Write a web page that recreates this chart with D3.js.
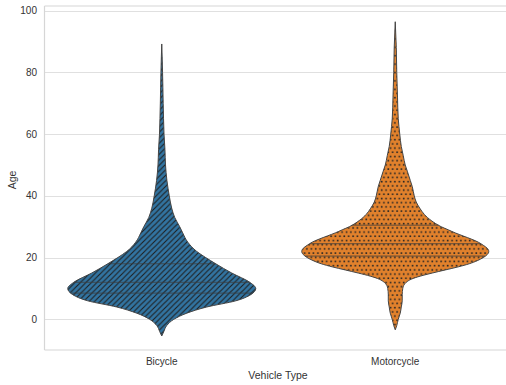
<!DOCTYPE html>
<html>
<head>
<meta charset="utf-8">
<script src="https://cdn.jsdelivr.net/npm/d3@7"></script>
<style>
  html, body { margin: 0; padding: 0; background: #fff; }
  svg { display: block; }
  text { font-family: "Liberation Sans", Arial, sans-serif; fill: #333; }
</style>
</head>
<body>
<svg id="chart" width="506" height="385"></svg>
<script>
// Vehicle types on the x axis
const categories = ["Bicycle", "Motorcycle"];

// Kernel density profile of rider age, per vehicle type (relative density, peak = 1)
const bicycleAges = [-5.4, -4, -2, 0, 2, 4, 6, 8, 10, 12, 15, 18, 20, 22, 25, 28, 30, 33, 36, 40, 45, 50, 55, 60, 65, 70, 75, 80, 85, 89.2];
const bicycleDensity = [0, 0.021, 0.053, 0.128, 0.266, 0.479, 0.787, 0.947, 1, 0.936, 0.745, 0.574, 0.468, 0.372, 0.277, 0.223, 0.191, 0.138, 0.106, 0.08, 0.055, 0.04, 0.034, 0.024, 0.019, 0.015, 0.012, 0.0085, 0.0043, 0];

const motorcycleAges = [-3.4, -2, 0, 2, 4, 6, 8, 10, 11, 12, 13, 14, 15, 16, 17, 18, 19, 20, 21, 22, 23, 24, 25, 26, 27, 28, 29, 30, 32, 34, 36, 38, 40, 43, 45, 48, 50, 53, 56, 60, 65, 72, 80, 88, 96.4];
const motorcycleDensity = [0, 0.016, 0.032, 0.053, 0.064, 0.074, 0.074, 0.08, 0.09, 0.117, 0.17, 0.266, 0.394, 0.532, 0.67, 0.787, 0.872, 0.936, 0.979, 0.995, 0.979, 0.936, 0.883, 0.809, 0.723, 0.638, 0.564, 0.489, 0.383, 0.309, 0.261, 0.223, 0.202, 0.181, 0.16, 0.128, 0.106, 0.085, 0.064, 0.048, 0.032, 0.024, 0.016, 0.011, 0];

// Quartiles of age (Q1, median, Q3)
const bicycleQuartiles = [8.5, 12, 18];
const motorcycleQuartiles = [20.5, 24.5, 30.5];

// Y axis ticks
const yTicks = [0, 20, 40, 60, 80, 100];

const series = [
  { name: categories[0], ages: bicycleAges, density: bicycleDensity, quartiles: bicycleQuartiles, color: "#3274a1", hatch: "hatchDiag" },
  { name: categories[1], ages: motorcycleAges, density: motorcycleDensity, quartiles: motorcycleQuartiles, color: "#e1812c", hatch: "hatchDots" }
];

const svg = d3.select("#chart");

const x = d3.scaleBand().domain(categories).range([45, 512]).padding(0);
const y = d3.scaleLinear().domain([-9.93, 101.5]).range([350, 6]);
const w = d3.scaleLinear().domain([0, 1]).range([0, 94]);

// Hatch patterns
const defs = svg.append("defs");
const diag = defs.append("pattern").attr("id", "hatchDiag")
  .attr("patternUnits", "userSpaceOnUse").attr("width", 5.5).attr("height", 5.5);
diag.append("path")
  .attr("d", "M-1,1 L1,-1 M0,5.5 L5.5,0 M4.5,6.5 L6.5,4.5")
  .attr("stroke", "#1e1e1e").attr("stroke-width", 1.1);

const dots = defs.append("pattern").attr("id", "hatchDots")
  .attr("patternUnits", "userSpaceOnUse").attr("width", 4.4).attr("height", 8.4);
[[1.1, 1.1], [3.3, 5.3]].forEach(([cx, cy]) => {
  dots.append("rect").attr("x", cx - 0.8).attr("y", cy - 0.8)
    .attr("width", 1.6).attr("height", 1.6).attr("fill", "#242424");
});

// Horizontal gridlines
svg.append("g").selectAll("line").data(yTicks).join("line")
  .attr("x1", 45).attr("x2", 512)
  .attr("y1", d => Math.round(y(d)) + 0.5).attr("y2", d => Math.round(y(d)) + 0.5)
  .attr("stroke", "#e0e0e0").attr("stroke-width", 1);

// Spines
const spine = svg.append("g").attr("stroke", "#d6d6d6").attr("stroke-width", 1.2).attr("fill", "none");
spine.append("line").attr("x1", 44.5).attr("x2", 44.5).attr("y1", 6).attr("y2", 350);
spine.append("line").attr("x1", 44.5).attr("x2", 512).attr("y1", 6).attr("y2", 6);
spine.append("line").attr("x1", 44.5).attr("x2", 512).attr("y1", 350).attr("y2", 350);

// Violins
series.forEach(s => {
  const cx = x(s.name) + x.bandwidth() / 2;
  const pts = s.ages.map((a, i) => ({ age: a, d: s.density[i] }));
  const area = d3.area()
    .y(p => y(p.age))
    .x0(p => cx - w(p.d))
    .x1(p => cx + w(p.d))
    .curve(d3.curveMonotoneY);
  const g = svg.append("g");
  g.append("path").attr("d", area(pts)).attr("fill", s.color);
  g.append("path").attr("d", area(pts)).attr("fill", `url(#${s.hatch})`);
  // Quartile lines spanning the violin at each level
  const interp = a => {
    const i = d3.bisectRight(s.ages, a);
    const a0 = s.ages[i - 1], a1 = s.ages[i];
    const t = (a - a0) / (a1 - a0);
    return s.density[i - 1] + t * (s.density[i] - s.density[i - 1]);
  };
  g.selectAll("line.q").data(s.quartiles).join("line")
    .attr("class", "q")
    .attr("x1", q => cx - w(interp(q))).attr("x2", q => cx + w(interp(q)))
    .attr("y1", q => y(q)).attr("y2", q => y(q))
    .attr("stroke", "#3c3c3c").attr("stroke-opacity", 0.75).attr("stroke-width", 1);
  g.append("path").attr("d", area(pts))
    .attr("fill", "none").attr("stroke", "#454545").attr("stroke-width", 1);
});

// Y tick labels
svg.append("g").selectAll("text").data(yTicks).join("text")
  .attr("x", 37).attr("y", d => y(d)).attr("dy", "0.35em")
  .attr("text-anchor", "end").attr("font-size", 10)
  .text(d => d);

// X tick labels
svg.append("g").selectAll("text").data(categories).join("text")
  .attr("x", d => x(d) + x.bandwidth() / 2).attr("y", 361).attr("dy", "0.35em")
  .attr("text-anchor", "middle").attr("font-size", 10)
  .text(d => d);

// Axis titles
svg.append("text").attr("x", 278).attr("y", 375).attr("dy", "0.35em")
  .attr("text-anchor", "middle").attr("font-size", 10.5).text("Vehicle Type");
svg.append("text").attr("transform", "translate(12,180) rotate(-90)").attr("dy", "0.35em")
  .attr("text-anchor", "middle").attr("font-size", 10.5).text("Age");
</script>
</body>
</html>
